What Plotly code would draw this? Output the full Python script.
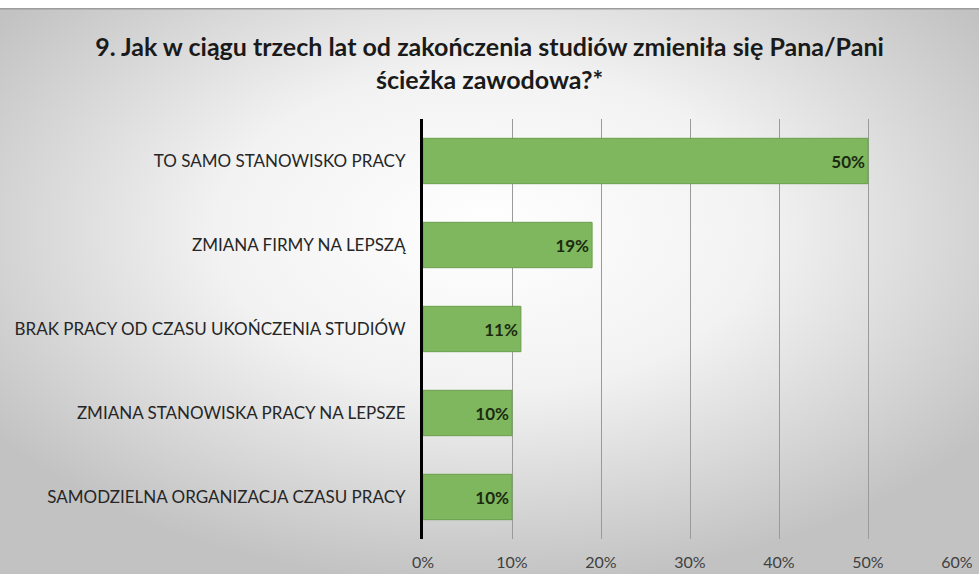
import base64
import plotly.graph_objects as go

categories = [
    "TO SAMO STANOWISKO PRACY",
    "ZMIANA FIRMY NA LEPSZĄ",
    "BRAK PRACY OD CZASU UKOŃCZENIA STUDIÓW",
    "ZMIANA STANOWISKA PRACY NA LEPSZE",
    "SAMODZIELNA ORGANIZACJA CZASU PRACY",
]
values = [0.50, 0.19, 0.11, 0.10, 0.10]
value_labels = ["50%", "19%", "11%", "10%", "10%"]
tick_vals = [0, 0.1, 0.2, 0.3, 0.4, 0.5, 0.6]
tick_text = ["0%", "10%", "20%", "30%", "40%", "50%", "60%"]
title_text = "9. Jak w ciągu trzech lat od zakończenia studiów zmieniła się Pana/Pani<br>ścieżka zawodowa?*"

W, H = 979, 574
L, R, T, B = 423, 22, 119, 35
PW, PH = W - L - R, H - T - B

svg = (
    f"<svg xmlns='http://www.w3.org/2000/svg' width='{W}' height='{H}' preserveAspectRatio='none'>"
    "<defs><radialGradient id='g' cx='50%' cy='40%' r='62%'>"
    "<stop offset='0' stop-color='#ffffff'/>"
    "<stop offset='0.45' stop-color='#f2f2f2'/>"
    "<stop offset='1' stop-color='#c2c2c2'/>"
    "</radialGradient></defs>"
    f"<rect width='{W}' height='{H}' fill='url(#g)'/>"
    f"<rect x='0' y='0' width='{W}' height='8' fill='#ffffff'/>"
    f"<rect x='0' y='8' width='{W}' height='1.5' fill='#9c9c9c'/>"
    "</svg>"
)
bg_uri = "data:image/svg+xml;base64," + base64.b64encode(svg.encode()).decode()

fig = go.Figure(
    go.Bar(
        x=values,
        y=categories,
        orientation="h",
        text=value_labels,
        textposition="inside",
        insidetextanchor="end",
        textfont=dict(family="Lato", size=17, color="#1c2a10", weight="bold"),
        marker=dict(color="#7fb75e", line=dict(color="#6a9f4b", width=1)),
        hoverinfo="skip",
    )
)

fig.update_layout(
    width=W,
    height=H,
    margin=dict(l=L, r=R, t=T, b=B, autoexpand=False),
    paper_bgcolor="#dcdcdc",
    plot_bgcolor="rgba(0,0,0,0)",
    bargap=0.46,
    showlegend=False,
    title=dict(
        text=title_text,
        x=0.5,
        xanchor="center",
        y=1 - 56 / H,
        yanchor="top",
        font=dict(family="Lato", size=25, color="#1a1a1a", weight="bold"),
    ),
    images=[
        dict(
            source=bg_uri,
            xref="paper",
            yref="paper",
            x=-L / PW,
            y=1 + T / PH,
            sizex=W / PW,
            sizey=H / PH,
            xanchor="left",
            yanchor="top",
            sizing="stretch",
            layer="below",
        )
    ],
    xaxis=dict(
        range=[0, 0.6],
        tickvals=tick_vals,
        ticktext=tick_text,
        showgrid=True,
        gridcolor="#9a9a9a",
        gridwidth=1,
        zeroline=False,
        showline=False,
        ticks="",
        automargin=False,
        ticklabelstandoff=12,
        tickfont=dict(family="Lato", size=16, color="#404040"),
    ),
    yaxis=dict(
        autorange="reversed",
        showline=True,
        linecolor="#000000",
        linewidth=3,
        showgrid=False,
        ticks="",
        automargin=False,
        ticklabelstandoff=11,
        tickfont=dict(family="Lato", size=17, color="#262626"),
    ),
)

fig.write_html(
    "out.html",
    config={"displayModeBar": False},
    post_script="document.body.style.margin='0';document.body.style.overflow='hidden';",
)
